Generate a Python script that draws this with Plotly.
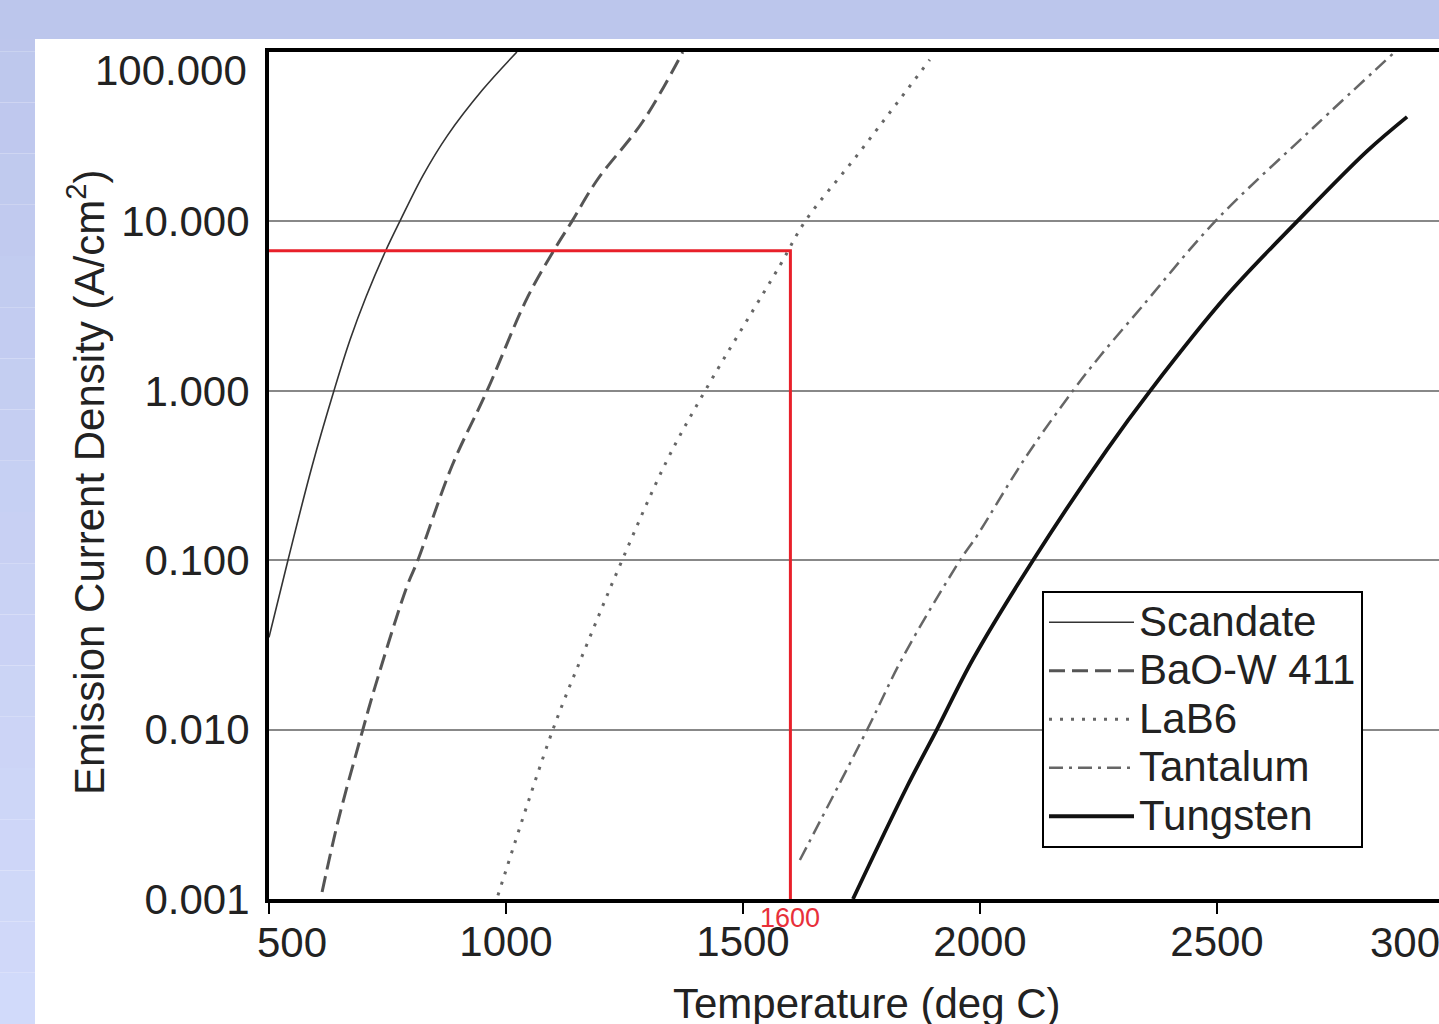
import plotly.graph_objects as go

# ---------------- data ----------------
scandate_T = [500, 540, 591, 637, 671, 705, 745, 776, 825, 876, 951, 1023]
scandate_J = [0.035, 0.1, 0.36, 1.0, 2.0, 3.6, 6.6, 10, 18.7, 32, 60, 100]

bao_T = [612, 646, 698, 724, 791, 814, 886, 960, 1044, 1099, 1139, 1192, 1289, 1373]
bao_J = [0.0011, 0.0029, 0.01, 0.018, 0.07, 0.1, 0.36, 1.0, 3.5, 6.6, 10, 17.5, 39, 100]

lab6_T = [983, 1099, 1171, 1245, 1338, 1420, 1578, 1631, 1741, 1894]
lab6_J = [0.00105, 0.01, 0.032, 0.1, 0.38, 1.0, 5.5, 10, 24.6, 90]

tantalum_T = [1620, 1762, 1838, 1958, 1994, 2095, 2196, 2253, 2338, 2496, 2703, 2875]
tantalum_J = [0.0017, 0.01, 0.027, 0.1, 0.14, 0.4, 1.0, 1.6, 3.05, 10, 35.7, 100]

tungsten_T = [1732, 1846, 1909, 1985, 2112, 2268, 2359, 2521, 2669, 2816, 2901]
tungsten_J = [0.001, 0.0046, 0.01, 0.026, 0.1, 0.45, 1.0, 3.66, 10, 25.9, 41.4]

marker_T = 1600
marker_J = 6.7
marker_label = "1600"

x_tickvals = [500, 1000, 1500, 2000, 2500, 3000]
x_ticktext = ["500", "1000", "1500", "2000", "2500", "3000"]
y_tickvals = [0.001, 0.01, 0.1, 1, 10, 100]
y_ticktext = ["0.001", "0.010", "0.100", "1.000", "10.000", "100.000"]

series_names = ["Scandate", "BaO-W 411", "LaB6", "Tantalum", "Tungsten"]

x_title = "Temperature (deg C)"
y_title = "Emission Current Density (A/cm<sup>2</sup>)"

# ---------------- layout geometry ----------------
W, H = 1439, 1024
ML, MR, MT, MB = 269, 0, 52, 125
PW, PH = W - ML - MR, H - MT - MB


def px_x(p):
    return (p - ML) / PW


def px_y(p):
    return (H - MB - p) / PH


FONT = "Liberation Sans, Arial, sans-serif"
TXT = "#222222"
FS = 42

fig = go.Figure()

styles = [
    dict(color="#333333", width=1.6, dash="solid"),
    dict(color="#555555", width=3, dash="16px,7px"),
    dict(color="#666666", width=3, dash="3px,8px"),
    dict(color="#666666", width=2.5, dash="14px,6px,3px,6px"),
    dict(color="#111111", width=3.8, dash="solid"),
]
data = [(scandate_T, scandate_J), (bao_T, bao_J), (lab6_T, lab6_J),
        (tantalum_T, tantalum_J), (tungsten_T, tungsten_J)]
for name, (xs, ys), ln in zip(series_names, data, styles):
    fig.add_trace(go.Scatter(x=xs, y=ys, mode="lines",
                             name='<span style="font-size:%dpx">%s</span>' % (FS, name),
                             line=dict(shape="spline", smoothing=1.0, **ln)))

# red guide lines
fig.add_trace(go.Scatter(x=[x_tickvals[0], marker_T, marker_T], y=[marker_J, marker_J, y_tickvals[0]],
                         mode="lines", line=dict(color="#e8202a", width=3),
                         showlegend=False, hoverinfo="skip", cliponaxis=False))

shapes = []
# background: top band + left gradient strip, white panel
bg_top = (188, 198, 236)
bg_bot = (210, 218, 250)
n = 20
for i in range(n):
    y0 = i * H / n
    y1 = (i + 1) * H / n
    t = (i + 0.5) / n
    c = tuple(int(round(bg_top[k] + (bg_bot[k] - bg_top[k]) * t)) for k in range(3))
    shapes.append(dict(type="rect", xref="paper", yref="paper", layer="below",
                       x0=px_x(0), x1=px_x(35), y0=px_y(y1), y1=px_y(y0),
                       line=dict(width=0), fillcolor="rgb(%d,%d,%d)" % c))
shapes.append(dict(type="rect", xref="paper", yref="paper", layer="below",
                   x0=px_x(0), x1=px_x(W), y0=px_y(39), y1=px_y(0),
                   line=dict(width=0), fillcolor="rgb(%d,%d,%d)" % bg_top))
shapes.append(dict(type="rect", xref="paper", yref="paper", layer="below",
                   x0=px_x(35), x1=px_x(W + 5), y0=px_y(H + 5), y1=px_y(39),
                   line=dict(width=0), fillcolor="white"))

tickfont = dict(family=FONT, size=FS, color=TXT)
annotations = [
    # edge tick labels, nudged inward like the original
    dict(text=x_ticktext[0], xref="x", yref="paper", x=x_tickvals[0], y=0, xanchor="center", yanchor="middle",
         xshift=23, yshift=-43, showarrow=False, font=tickfont),
    dict(text=x_ticktext[-1], xref="paper", yref="paper", x=1.0, y=0, xanchor="left", yanchor="middle",
         xshift=-71, yshift=-43, showarrow=False, font=tickfont),
    dict(text=y_ticktext[-1], xref="paper", yref="y", x=0, y=2, xanchor="right", yanchor="middle",
         xshift=-20, yshift=-18, showarrow=False, font=tickfont),
    dict(text=marker_label, xref="x", yref="paper", x=marker_T, y=0, xanchor="center", yanchor="top",
         yshift=-2, showarrow=False, font=dict(family=FONT, size=27, color="#e8303a")),
    dict(text=x_title, xref="paper", yref="paper", x=px_x(867), y=px_y(1003), xanchor="center",
         yanchor="middle", showarrow=False, font=dict(family=FONT, size=FS, color=TXT)),
    dict(text=y_title, xref="paper", yref="paper", x=px_x(86), y=px_y(482), xanchor="center",
         yanchor="middle", textangle=-90, showarrow=False, font=dict(family=FONT, size=FS, color=TXT)),
]

fig.update_layout(
    width=W, height=H,
    margin=dict(l=ML, r=MR, t=MT, b=MB, pad=0),
    paper_bgcolor="white", plot_bgcolor="white",
    font=dict(family=FONT, size=FS, color=TXT),
    shapes=shapes, annotations=annotations,
    showlegend=True,
    legend=dict(x=px_x(1042), y=px_y(591), xanchor="left", yanchor="top",
                bgcolor="white", bordercolor="black", borderwidth=2,
                font=dict(family=FONT, size=35, color=TXT), itemwidth=85,
                tracegroupgap=0),
)

fig.update_xaxes(type="linear", range=[500, 500 + PW / 0.474],
                 tickvals=x_tickvals, ticktext=[""] + x_ticktext[1:-1] + [""],
                 showgrid=False, zeroline=False, showline=True, linecolor="black", linewidth=4,
                 mirror=True, ticks="outside", ticklen=11, tickwidth=2, tickcolor="black",
                 ticklabelstandoff=-8, tickfont=tickfont)
fig.update_yaxes(type="log", range=[-3, 2], tickvals=y_tickvals, ticktext=y_ticktext[:-1] + [""],
                 showgrid=True, gridcolor="#888888", gridwidth=2, zeroline=False,
                 showline=True, linecolor="black", linewidth=4, mirror=False, ticks="",
                 ticklabelstandoff=7, tickfont=tickfont)

fig.write_html("out.html", config={"displayModeBar": False},
               post_script="document.body.style.margin='0';document.body.style.overflow='hidden';")
